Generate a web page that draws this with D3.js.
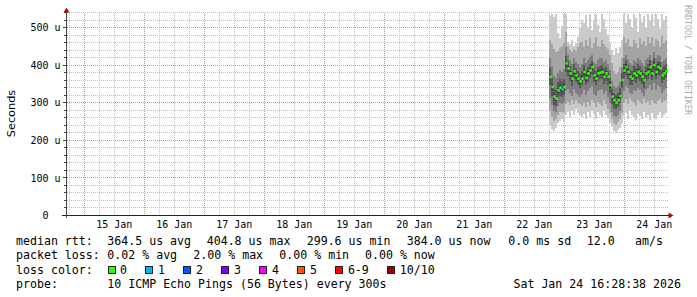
<!DOCTYPE html>
<html>
<head>
<meta charset="utf-8">
<script src="https://cdn.jsdelivr.net/npm/d3@7"></script>
<style>
  html, body { margin: 0; padding: 0; background: #fff; }
  svg { display: block; }
  text { font-family: "DejaVu Sans Mono", monospace; fill: #000; white-space: pre; }
</style>
</head>
<body>
<script>
'use strict'

// smokeping samples, one column every 48 min starting 22 Jan 18:00
var startTime = new Date(2026, 0, 22, 18, 0)
var stepMin = 48

var median = [369, 342, 316, 311, 333, 340, 336, 342, 405, 391, 378, 364, 384, 373, 364, 357, 364, 382, 366, 378,
  386, 395, 373, 364, 378, 380, 382, 369, 378, 369, 347, 316, 307, 300, 307, 318, 360, 386, 395, 382,
  369, 364, 378, 373, 382, 378, 369, 360, 378, 382, 395, 378, 400, 382, 395, 391, 373, 378, 384]

var loss = [0, 0, 0, 0, 0, 0, 1, 0, 0, 0, 0, 0, 0, 0, 0, 0, 0, 0, 0, 0,
  0, 0, 0, 0, 0, 0, 0, 0, 0, 0, 0, 0, 0, 0, 0, 0, 0, 0, 0, 0,
  0, 0, 0, 0, 0, 0, 0, 0, 0, 0, 0, 0, 0, 0, 0, 0, 0, 0, 0]

// sorted ping pairs: 1/10, 2/9, 3/8, 4/7, 5/6
var ping10 = [532, 536, 528, 535, 486, 472, 505, 536, 536, 462, 455, 468, 450, 458, 476, 498, 521, 512, 533, 502,
  536, 494, 519, 536, 506, 488, 536, 522, 497, 481, 458, 441, 428, 446, 433, 447, 468, 536, 511, 536,
  522, 499, 536, 526, 489, 536, 514, 531, 498, 536, 519, 536, 503, 536, 524, 497, 536, 521, 530]
var ping1 = [238, 229, 224, 232, 246, 252, 257, 249, 268, 274, 263, 279, 268, 284, 273, 268, 262, 271, 258, 274,
  263, 279, 269, 258, 274, 268, 263, 279, 268, 259, 246, 236, 224, 219, 227, 234, 243, 264, 272, 258,
  278, 268, 262, 254, 271, 266, 258, 276, 262, 268, 255, 272, 263, 258, 268, 276, 262, 268, 272]
var ping9 = [468, 455, 442, 436, 438, 446, 452, 458, 488, 452, 440, 436, 444, 438, 449, 458, 462, 447, 466, 452,
  471, 446, 459, 474, 452, 448, 468, 457, 449, 442, 428, 406, 384, 376, 382, 394, 418, 474, 458, 469,
  452, 448, 466, 458, 446, 472, 455, 463, 451, 474, 460, 476, 452, 470, 463, 449, 477, 458, 466]
var ping2 = [278, 262, 252, 256, 268, 276, 274, 272, 296, 302, 294, 306, 296, 308, 300, 296, 292, 299, 288, 302,
  292, 306, 298, 288, 302, 296, 292, 306, 296, 284, 272, 258, 246, 242, 248, 256, 272, 300, 310, 296,
  312, 304, 298, 292, 306, 302, 296, 310, 298, 304, 293, 308, 300, 296, 304, 310, 298, 304, 308]
var ping8 = [420, 398, 372, 366, 378, 386, 382, 390, 448, 428, 414, 402, 418, 408, 402, 396, 402, 418, 406, 414,
  421, 428, 408, 402, 414, 418, 420, 408, 414, 404, 386, 358, 344, 338, 344, 356, 392, 418, 428, 416,
  406, 400, 414, 408, 420, 414, 406, 398, 414, 420, 428, 414, 434, 418, 428, 424, 408, 414, 420]
var ping3 = [312, 294, 278, 276, 290, 298, 296, 300, 330, 336, 326, 318, 336, 326, 320, 314, 322, 334, 320, 330,
  338, 344, 324, 318, 330, 334, 336, 324, 330, 316, 298, 276, 266, 262, 268, 278, 312, 332, 344, 338,
  326, 322, 334, 330, 340, 334, 326, 318, 334, 340, 348, 334, 352, 334, 346, 342, 326, 334, 340]
var ping7 = [392, 366, 340, 334, 356, 362, 358, 364, 424, 410, 398, 384, 402, 392, 384, 376, 384, 400, 386, 396,
  404, 412, 392, 384, 396, 398, 400, 392, 396, 384, 366, 336, 326, 320, 326, 338, 378, 402, 412, 400,
  388, 384, 398, 392, 402, 398, 388, 380, 396, 402, 414, 398, 418, 402, 412, 408, 392, 398, 404]
var ping4 = [346, 318, 294, 290, 312, 318, 314, 320, 382, 370, 358, 344, 364, 354, 346, 338, 346, 360, 346, 356,
  366, 374, 354, 346, 358, 362, 362, 350, 358, 346, 326, 296, 286, 282, 288, 298, 340, 366, 374, 362,
  348, 346, 358, 352, 364, 358, 350, 340, 358, 362, 376, 360, 378, 362, 374, 370, 352, 360, 366]
var ping6 = [376, 349, 323, 318, 340, 347, 343, 349, 412, 398, 385, 371, 391, 380, 371, 364, 371, 389, 373, 385,
  393, 402, 380, 371, 385, 387, 389, 376, 385, 376, 354, 323, 314, 307, 314, 325, 367, 393, 402, 389,
  376, 371, 385, 380, 389, 385, 376, 367, 385, 389, 402, 385, 407, 389, 402, 398, 380, 385, 391]
var ping5 = [362, 335, 309, 304, 326, 333, 329, 335, 398, 384, 371, 357, 377, 366, 357, 350, 357, 375, 359, 371,
  379, 388, 366, 357, 371, 373, 375, 362, 371, 362, 340, 309, 300, 295, 300, 311, 353, 379, 388, 375,
  362, 357, 371, 366, 375, 371, 362, 353, 371, 375, 388, 371, 393, 375, 388, 384, 366, 371, 377]

var yTicks = [0, 100, 200, 300, 400, 500]

var rttStats = [['median rtt:', 16], ['364.5 us avg', 107.3], ['404.8 us max', 206.7], ['299.6 us min', 306.7],
  ['384.0 us now', 406.7], ['0.0 ms sd', 508.3], ['12.0', 586.7], ['am/s', 635]]
var lossStats = [['packet loss:', 16], ['0.02 % avg', 107.3], ['2.00 % max', 193.3], ['0.00 % min', 279.3],
  ['0.00 % now', 365]]
var lossLabels = ['0', '1', '2', '3', '4', '5', '6-9', '10/10']
var lossColors = ['#26ff00', '#00b8ff', '#0059ff', '#7e00ff', '#ff00ff', '#ff5500', '#ff0000', '#a10000']
var probeText = '10 ICMP Echo Pings (56 Bytes) every 300s'
var stampText = 'Sat Jan 24 16:28:38 2026'

var W = 697, H = 297
var svg = d3.select('body').append('svg')
  .attr('width', W)
  .attr('height', H)

svg.append('rect').attr('width', W).attr('height', H).attr('fill', '#fff')

var x = d3.scaleTime()
  .domain([new Date(2026, 0, 14, 16, 53), new Date(2026, 0, 24, 16, 53)])
  .range([66.5, 666.5])
var y = d3.scaleLinear().domain([0, 540]).range([215.5, 12.5])

function snap (v) { return Math.floor(v) + 0.5 }

var plotLeft = 66.5, plotTop = 12.5, plotBottom = 215.5
var grid = svg.append('g').attr('stroke-dasharray', '1,1').attr('stroke-width', 1)
var minorColor = '#c2c2c2', majorColor = '#e98a8a'

// minor grid (dots aligned to whole pixels)
d3.range(20, 541, 20).filter(function (v) { return v % 100 !== 0 }).forEach(function (v) {
  grid.append('line').attr('x1', 67).attr('x2', 668)
    .attr('y1', snap(y(v))).attr('y2', snap(y(v))).attr('stroke', minorColor)
})
d3.timeHour.every(6).range(x.domain()[0], x.domain()[1])
  .filter(function (t) { return t.getHours() !== 0 })
  .forEach(function (t) {
    grid.append('line').attr('y1', 13).attr('y2', 215)
      .attr('x1', snap(x(t))).attr('x2', snap(x(t))).attr('stroke', minorColor)
  })

// major grid
yTicks.slice(1).forEach(function (v) {
  grid.append('line').attr('x1', 67).attr('x2', 668)
    .attr('y1', snap(y(v))).attr('y2', snap(y(v))).attr('stroke', majorColor)
})
d3.timeDay.range(x.domain()[0], x.domain()[1]).forEach(function (t) {
  grid.append('line').attr('y1', 13).attr('y2', 215)
    .attr('x1', snap(x(t))).attr('x2', snap(x(t))).attr('stroke', majorColor)
})

// smoke
var rows = median.map(function (m, i) {
  return {
    t: d3.timeMinute.offset(startTime, i * stepMin),
    t2: d3.timeMinute.offset(startTime, (i + 1) * stepMin),
    median: m,
    loss: loss[i],
    p: [ping1[i], ping2[i], ping3[i], ping4[i], ping5[i], ping6[i], ping7[i], ping8[i], ping9[i], ping10[i]]
  }
})

var smokeColors = ['#cacaca', '#a4a4a4', '#7e7e7e', '#585858', '#323232']
var smoke = svg.append('g').attr('shape-rendering', 'crispEdges')
smokeColors.forEach(function (c, k) {
  smoke.selectAll(null)
    .data(rows)
    .enter().append('rect')
    .attr('x', function (d) { return x(d.t) })
    .attr('width', function (d) { return x(d.t2) - x(d.t) })
    .attr('y', function (d) { return y(Math.min(d.p[9 - k], 540)) })
    .attr('height', function (d) { return y(d.p[k]) - y(Math.min(d.p[9 - k], 540)) })
    .attr('fill', c)
})

// median
svg.append('g').selectAll(null)
  .data(rows)
  .enter().append('rect')
  .attr('x', function (d) { return x(d.t) })
  .attr('width', function (d) { return x(d.t2) - x(d.t) + 0.5 })
  .attr('y', function (d) { return y(d.median) - 1.5 })
  .attr('height', 3)
  .attr('fill', function (d) { return lossColors[d.loss] })

// axes
var axis = svg.append('g').attr('stroke', '#444').attr('shape-rendering', 'crispEdges')
axis.append('line').attr('x1', 62).attr('x2', 670).attr('y1', plotBottom).attr('y2', plotBottom).attr('stroke', '#222')
axis.append('line').attr('x1', plotLeft).attr('x2', plotLeft).attr('y1', 218).attr('y2', 12)
d3.range(20, 541, 20).forEach(function (v) {
  axis.append('line').attr('x1', v % 100 === 0 ? 63 : 64).attr('x2', plotLeft)
    .attr('y1', snap(y(v))).attr('y2', snap(y(v)))
})
svg.append('path').attr('d', 'M63.5,12.5L69.5,12.5L66.5,7.5Z').attr('fill', '#a01010')
svg.append('path').attr('d', 'M668.5,212.5L668.5,218.5L673.5,215.5Z').attr('fill', '#a01010')

svg.append('g').selectAll(null)
  .data(yTicks)
  .enter().append('text')
  .attr('x', 60.5)
  .attr('y', function (v) { return y(v) + 3.6 })
  .attr('text-anchor', 'end')
  .style('font-size', '10px')
  .text(function (v) { return v === 0 ? '0  ' : v + ' u' })

var dayFmt = d3.timeFormat('%d %b')
svg.append('g').selectAll(null)
  .data(d3.timeDay.range(x.domain()[0], x.domain()[1]))
  .enter().append('text')
  .attr('x', function (t) { return x(d3.timeHour.offset(t, 12)) })
  .attr('y', 228)
  .attr('text-anchor', 'middle')
  .style('font-size', '10px')
  .text(function (t) { return dayFmt(t) })

svg.append('text')
  .attr('transform', 'translate(15,113.5) rotate(-90)')
  .attr('text-anchor', 'middle')
  .style('font-family', '"DejaVu Sans", sans-serif')
  .style('font-size', '11.3px')
  .text('Seconds')

svg.append('text')
  .attr('transform', 'translate(684.5,5) rotate(90)')
  .style('font-size', '8.3px')
  .style('fill', '#aaaaaa')
  .text('RRDTOOL / TOBI OETIKER')

// legend
var legend = svg.append('g').style('font-size', '11.6px')
function row (items, baseline) {
  items.forEach(function (it) {
    legend.append('text').attr('x', it[1]).attr('y', baseline).text(it[0])
  })
}
row(rttStats, 245)
row(lossStats, 259.3)
row([['loss color:', 16]], 273.6)
var lx = 107.5
lossLabels.forEach(function (lab, i) {
  legend.append('rect').attr('x', lx + 0.5).attr('y', 266.5).attr('width', 7).attr('height', 7)
    .attr('fill', lossColors[i]).attr('stroke', '#222').attr('shape-rendering', 'crispEdges')
  legend.append('text').attr('x', lx + 12.5).attr('y', 273.6).text(lab)
  lx += 12.5 + lab.length * 6.98 + 18.5
})
row([['probe:', 16], [probeText, 107.3]], 287.9)
legend.append('text').attr('x', 681).attr('y', 287.9).attr('text-anchor', 'end').text(stampText)
</script>
</body>
</html>
